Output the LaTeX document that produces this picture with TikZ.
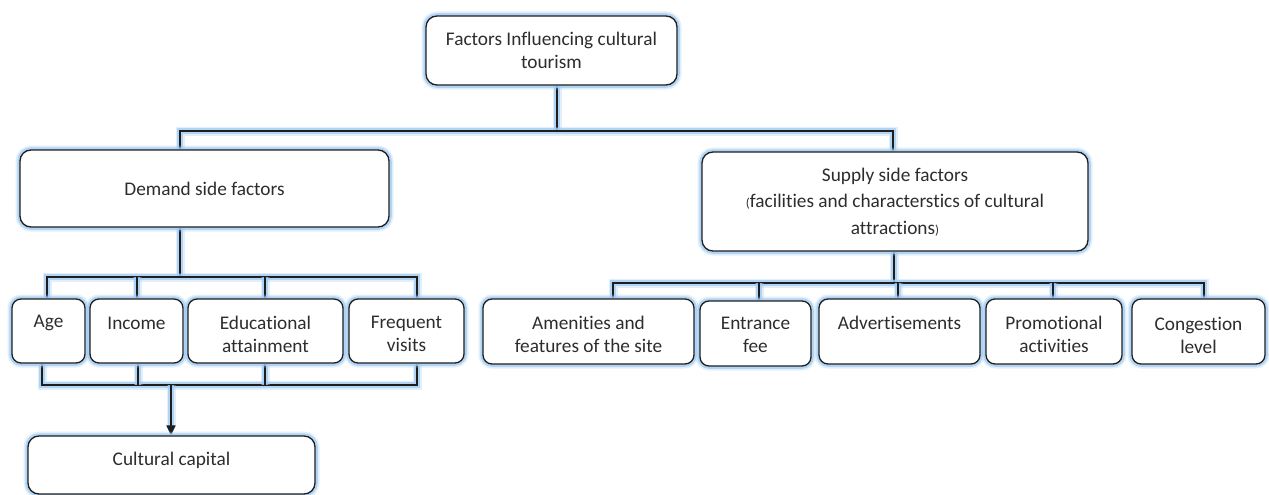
\documentclass[tikz,border=0pt]{standalone}
\usepackage{fontspec}
\setmainfont{Carlito}[Ligatures={CommonOff,ContextualOff}]
\usetikzlibrary{arrows.meta}
\pgfdeclarelayer{background}
\pgfsetlayers{background,main}
\definecolor{glowc}{RGB}{160,203,242}
\definecolor{linec}{RGB}{30,30,30}
\definecolor{textc}{RGB}{45,45,45}
\tikzset{
  glow/.style={preaction={draw=glowc,line width=9pt,opacity=0.3},preaction={draw=glowc,line width=5.5pt,opacity=0.75}},
  boxnode/.style={glow,draw=linec,line width=1.3pt,fill=white,rounded corners=11pt,inner sep=0pt},
  smallbox/.style={boxnode,rounded corners=9pt},
  conn/.style={glow,draw=linec,line width=1.3pt},
  lbl/.style={text=textc,align=center,inner sep=0pt,font=\fontsize{19.3}{23}\selectfont}
}
\newcommand{\smp}[1]{{\fontsize{13}{13}\selectfont #1}}
\begin{document}
\begin{tikzpicture}[x=1pt,y=-1pt]
\useasboundingbox (0,0) rectangle (1269,495);
% junction coordinates
\coordinate (hL) at (180,131);
\coordinate (hC) at (557,131);
\coordinate (hR) at (893,131);
\coordinate (dA) at (47,277);
\coordinate (dI) at (137,277);
\coordinate (dC) at (180,277);
\coordinate (dE) at (265,277);
\coordinate (dB) at (417,277);
\coordinate (bA) at (42,385);
\coordinate (bI) at (138,385);
\coordinate (bC) at (171,385);
\coordinate (bE) at (265,385);
\coordinate (bB) at (417,385);
\coordinate (sA) at (613,283);
\coordinate (sE) at (759,283);
\coordinate (sC) at (894,283);
\coordinate (sD) at (898,283);
\coordinate (sP) at (1053,283);
\coordinate (sB) at (1204,283);
% boxes
\path
  (551.5,50.5) node[boxnode,minimum width=251pt,minimum height=69pt] (top) {}
  (204.5,188.5) node[boxnode,minimum width=369pt,minimum height=77pt] (demand) {}
  (895,201.5) node[boxnode,minimum width=386pt,minimum height=99pt] (supply) {}
  (48.5,331) node[smallbox,minimum width=73pt,minimum height=64pt] (age) {}
  (136.5,331) node[smallbox,minimum width=93pt,minimum height=64pt] (income) {}
  (265.5,331) node[smallbox,minimum width=155pt,minimum height=64pt] (edu) {}
  (406.5,331) node[smallbox,minimum width=115pt,minimum height=64pt] (freq) {}
  (588.5,331.5) node[smallbox,minimum width=211pt,minimum height=65pt] (amen) {}
  (755.5,333.5) node[smallbox,minimum width=111pt,minimum height=65pt] (entr) {}
  (899.5,331.5) node[smallbox,minimum width=161pt,minimum height=65pt] (adv) {}
  (1054,331.5) node[smallbox,minimum width=136pt,minimum height=65pt] (promo) {}
  (1198.5,331.5) node[smallbox,minimum width=133pt,minimum height=65pt] (cong) {}
  (171.5,465) node[boxnode,minimum width=287pt,minimum height=58pt] (cc) {};
% connectors (behind boxes)
\begin{pgfonlayer}{background}
\draw[conn] (hC |- top.south) -- (hC);
\draw[conn] (demand.north -| hL) -- (hL) -- (hR) -- (supply.north -| hR);
\draw[conn] (dC |- demand.south) -- (dC);
\draw[conn] (sC |- supply.south) -- (sC);
\draw[conn] (age.north -| dA) -- (dA) -- (dB) -- (freq.north -| dB);
\draw[conn] (dI) -- (income.north -| dI);
\draw[conn] (dE) -- (edu.north -| dE);
\draw[conn] (age.south -| bA) -- (bA) -- (bB) -- (freq.south -| bB);
\draw[conn] (income.south -| bI) -- (bI);
\draw[conn] (edu.south -| bE) -- (bE);
\draw[conn,-{Triangle[width=9pt,length=10pt]}] (bC) -- (cc.north -| bC);
\draw[conn] (amen.north -| sA) -- (sA) -- (sB) -- (cong.north -| sB);
\draw[conn] (sE) -- (entr.north -| sE);
\draw[conn] (sD) -- (adv.north -| sD);
\draw[conn] (sP) -- (promo.north -| sP);
\end{pgfonlayer}
% labels
\node[lbl] (topl) at (top.center) {Factors Influencing cultural\\tourism};
\node[lbl] (demandl) at (204.5,189) {Demand side factors};
\node[lbl,font=\fontsize{19.3}{26.5}\selectfont] (supplyl) at (895,202) {Supply side factors\\\smp{(}facilities and characterstics of cultural\\attractions\smp{)}};
\node[lbl] (agel) at (48.5,323) {Age};
\node[lbl] (incomel) at (136.5,323) {Income};
\node[lbl] (edul) at (265.5,334) {Educational\\attainment};
\node[lbl] (freql) at (406.5,334) {Frequent\\visits};
\node[lbl] (amenl) at (588.5,334) {Amenities and\\features of the site};
\node[lbl] (entrl) at (755.5,335) {Entrance\\fee};
\node[lbl] (advl) at (899.5,323) {Advertisements};
\node[lbl] (promol) at (1054,334) {Promotional\\activities};
\node[lbl] (congl) at (1198.5,335) {Congestion\\level};
\node[lbl] (ccl) at (171.5,460) {Cultural capital};
\end{tikzpicture}
\end{document}
